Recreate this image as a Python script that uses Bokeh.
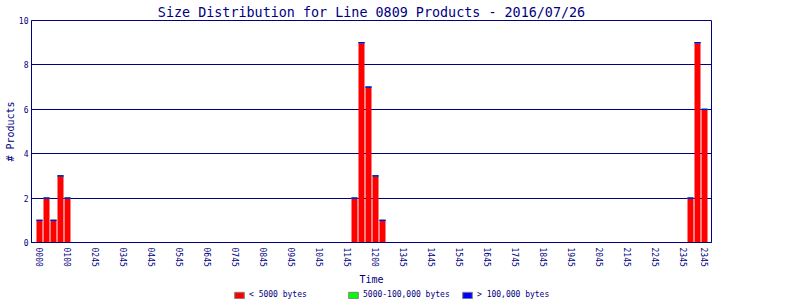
from bokeh.plotting import figure
from bokeh.layouts import column
from bokeh.models import Range1d, FixedTicker, Legend, LegendItem, ColumnDataSource
from bokeh.embed import file_html
from bokeh.resources import INLINE

# ---- data ----
slot_times = ["0000", "0015", "0030", "0045", "0100",
              "1115", "1130", "1145", "1200", "1215",
              "2315", "2330", "2345"]
small_counts = [1, 2, 1, 3, 2, 2, 9, 7, 3, 1, 2, 9, 6]    # < 5000 bytes
medium_counts = [0, 0, 0, 0, 0, 0, 0, 0, 0, 0, 0, 0, 0]   # 5000-100,000 bytes
large_counts = [0, 0, 0, 0, 0, 0, 0, 0, 0, 0, 0, 0, 0]    # > 100,000 bytes
tick_labels = ["0000", "0100", "0245", "0345", "0445", "0545", "0645", "0745",
               "0845", "0945", "1045", "1145", "1200", "1345", "1445", "1545",
               "1645", "1745", "1845", "1945", "2045", "2145", "2245", "2345", "2345"]
series_names = ["< 5000 bytes", "5000-100,000 bytes", "> 100,000 bytes"]
y_ticks = [0, 2, 4, 6, 8, 10]

NAVY = "#000080"
FONT = "DejaVu Sans Mono"

slot = [int(t[:2]) * 4 + int(t[2:]) // 15 for t in slot_times]
top1 = small_counts
top2 = [a + b for a, b in zip(small_counts, medium_counts)]
top3 = [a + b for a, b in zip(top2, large_counts)]
src = ColumnDataSource(dict(x=slot, b0=[0] * len(slot), t1=top1, t2=top2, t3=top3))

p = figure(width=800, height=288, output_backend="svg", toolbar_location=None,
           x_range=Range1d(-1.143, 96.0), y_range=Range1d(0, 10),
           min_border_left=31, min_border_right=89, min_border_top=20, min_border_bottom=46,
           title="Size Distribution for Line 0809 Products - 2016/07/26")
p.title.align = "center"
p.title.text_font = FONT
p.title.text_font_size = "13.4px"
p.title.text_font_style = "normal"
p.title.text_color = NAVY
p.title.standoff = 2

p.outline_line_color = NAVY
p.outline_line_width = 1
p.background_fill_color = "white"
p.border_fill_color = "white"

bw = 6 / 7
p.vbar(x="x", bottom="b0", top="t1", width=bw, source=src, fill_color="#ff0000", line_color=None)
p.vbar(x="x", bottom="t1", top="t2", width=bw, source=src, fill_color="#00ff00", line_color="#00ff00", line_width=1)
p.vbar(x="x", bottom="t2", top="t3", width=bw, source=src, fill_color="#0000ff", line_color="#0000ff", line_width=1)

# axes
tick_pos = list(range(0, 96, 4)) + [95]
p.xaxis.ticker = FixedTicker(ticks=tick_pos)
p.xaxis.major_label_overrides = {pos: lab for pos, lab in zip(tick_pos, tick_labels)}
p.xaxis.major_label_orientation = "vertical"
p.yaxis.ticker = FixedTicker(ticks=y_ticks)
p.xaxis.axis_label = "Time"
p.yaxis.axis_label = "# Products"
for ax in (p.xaxis[0], p.yaxis[0]):
    ax.axis_line_color = NAVY
    ax.axis_line_width = 1
    ax.major_tick_line_color = None
    ax.minor_tick_line_color = None
    ax.major_tick_out = 0
    ax.major_tick_in = 0
    ax.major_label_text_font = FONT
    ax.major_label_text_font_size = "8px"
    ax.major_label_text_color = NAVY
    ax.axis_label_text_font = FONT
    ax.axis_label_text_font_size = "10px"
    ax.axis_label_text_font_style = "normal"
    ax.axis_label_text_color = NAVY
p.xaxis.major_label_standoff = 5
p.xaxis.axis_label_standoff = 4
p.yaxis.major_label_standoff = 3
p.yaxis.axis_label_standoff = 0

p.xgrid.grid_line_color = None
p.ygrid.grid_line_color = NAVY
p.ygrid.grid_line_width = 1

# legend strip below the chart (frame aligned with the chart frame)
lf = figure(width=800, height=12, output_backend="svg", toolbar_location=None,
            x_axis_type=None, y_axis_type=None, x_range=Range1d(0, 1), y_range=Range1d(0, 1),
            min_border=0, min_border_left=0, min_border_right=0, min_border_top=0, min_border_bottom=0)
lf.outline_line_color = None
lf.xgrid.visible = False
lf.ygrid.visible = False
colors = ["#ff0000", "#00ff00", "#0000ff"]
tops = ["t1", "t2", "t3"]
items = []
for name, col, t in zip(series_names, colors, tops):
    proxy = lf.vbar(x="x", top=t, width=bw, source=src, fill_color=col,
                    line_color="#808080", line_width=1, visible=False)
    items.append(LegendItem(label=name, renderers=[proxy]))
lg = Legend(items=items, location=(202, 1),
            orientation="horizontal", padding=0, margin=0, spacing=0,
            glyph_width=12, glyph_height=8, label_standoff=4, label_width=98,
            label_text_font=FONT, label_text_font_size="8px", label_text_color=NAVY,
            inactive_fill_alpha=0, border_line_color=None, background_fill_alpha=0)
lf.add_layout(lg, "center")

layout = column(p, lf, spacing=0)
open("out.html", "w").write(file_html(layout, INLINE))
